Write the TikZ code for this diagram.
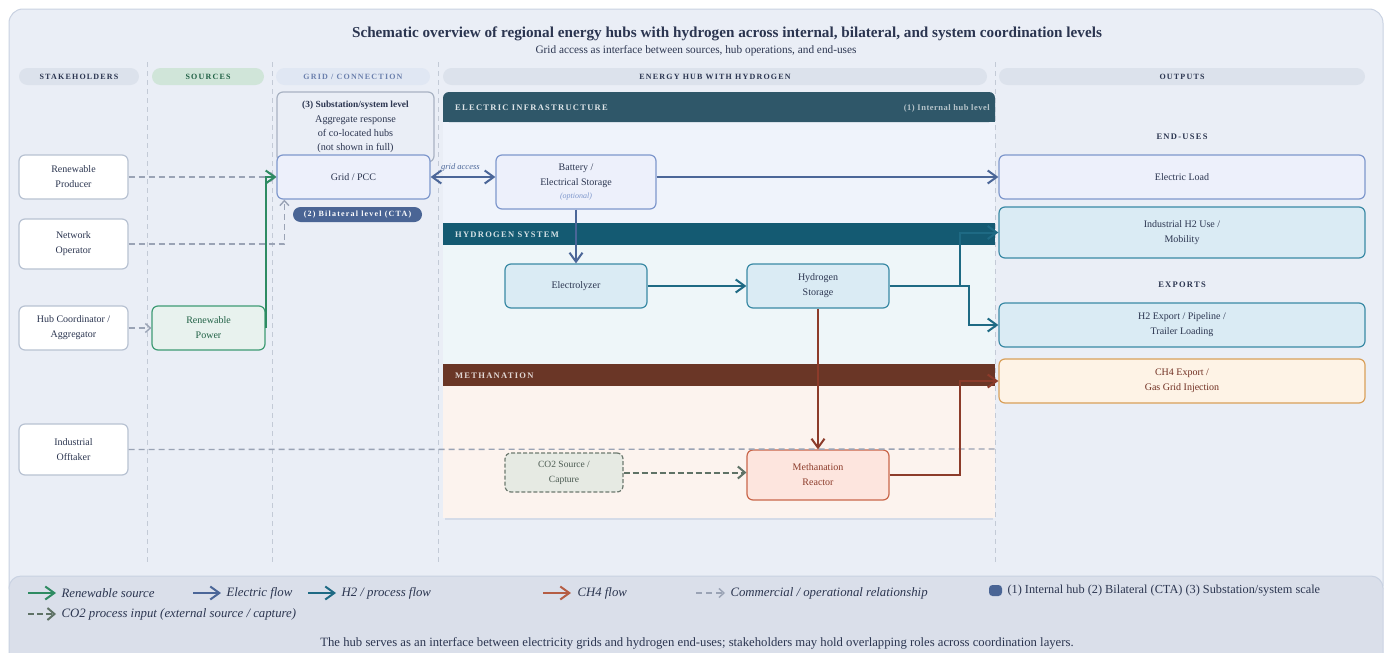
\documentclass[tikz,border=0pt]{standalone}
\usepackage{fontspec}
\setmainfont{Liberation Serif}
\newfontfamily\trackfont[LetterSpace=15]{Liberation Serif}
\newfontfamily\lighttrack[LetterSpace=6]{Liberation Serif}
\usetikzlibrary{arrows.meta,calc}

% palette
\definecolor{panelfill}{HTML}{EAEEF6}
\definecolor{paneldraw}{HTML}{C9D2E2}
\definecolor{legendfill}{HTML}{DADFEA}
\definecolor{pillfill}{HTML}{DCE2EC}
\definecolor{pillsrc}{HTML}{D0E5D9}
\definecolor{pillgrid}{HTML}{E0E7F3}
\definecolor{ink}{HTML}{2B3550}
\definecolor{sepline}{HTML}{C3CAD6}
\definecolor{elechead}{HTML}{2F5769}
\definecolor{h2head}{HTML}{145A72}
\definecolor{ch4head}{HTML}{6A3626}
\definecolor{elecbody}{HTML}{EFF3FB}
\definecolor{h2body}{HTML}{EEF6F9}
\definecolor{ch4body}{HTML}{FCF3EE}
\definecolor{stakedraw}{HTML}{B8C2D2}
\definecolor{elecdraw}{HTML}{7E97CC}
\definecolor{elecfill}{HTML}{EDF0FB}
\definecolor{h2draw}{HTML}{3A8AA5}
\definecolor{h2fill}{HTML}{DAEBF4}
\definecolor{greendraw}{HTML}{3E9B74}
\definecolor{greenfill}{HTML}{E8F2EE}
\definecolor{co2draw}{HTML}{6E7A70}
\definecolor{co2fill}{HTML}{E6EAE3}
\definecolor{ch4draw}{HTML}{C9674B}
\definecolor{ch4fill}{HTML}{FDE5DE}
\definecolor{expdraw}{HTML}{D9A05A}
\definecolor{expfill}{HTML}{FEF3E6}
\definecolor{substdraw}{HTML}{A8B2C2}
\definecolor{ctafill}{HTML}{4A6595}
\definecolor{elecline}{HTML}{4B6698}
\definecolor{h2line}{HTML}{1E6A84}
\definecolor{ch4line}{HTML}{8C3B2A}
\definecolor{greenline}{HTML}{2E8B62}
\definecolor{relline}{HTML}{9AA3B5}
\definecolor{co2line}{HTML}{5F7266}

\tikzset{
  bigtip/.tip={Straight Barb[length=9pt,width=13pt]},
  smalltip/.tip={Straight Barb[length=5pt,width=9pt]},
  co2tip/.tip={Straight Barb[length=7pt,width=12pt]},
}

\begin{document}
\begin{tikzpicture}[x=1pt,y=-1pt,
  nodefont/.style={font=\fontsize{10}{15}\selectfont},
  box/.style={rounded corners=6pt, line width=1.2pt, align=center, inner sep=0pt,
    text=ink, nodefont},
  stakebox/.style={box, draw=stakedraw, fill=white, minimum width=109pt},
  elecbox/.style={box, draw=elecdraw, fill=elecfill},
  h2box/.style={box, draw=h2draw, fill=h2fill},
  greenbox/.style={box, draw=greendraw, fill=greenfill, text=greenline!70!black},
  co2box/.style={box, draw=co2draw, fill=co2fill, dash pattern=on 4pt off 2pt, text=co2line!80!black},
  ch4box/.style={box, draw=ch4draw, fill=ch4fill, text=ch4line},
  expbox/.style={box, draw=expdraw, fill=expfill, text=ch4line!80!black},
  pill/.style={rounded corners=8.5pt, minimum height=17pt, inner sep=0pt,
    font=\trackfont\bfseries\fontsize{8}{9}\selectfont},
  sect/.style={font=\trackfont\bfseries\fontsize{8.5}{10}\selectfont, anchor=west, inner sep=0pt},
  sep/.style={draw=sepline, dash pattern=on 5pt off 4pt, line width=0.9pt},
  flow/.style={line width=2pt, -{bigtip}},
  elecflow/.style={flow, draw=elecline},
  h2flow/.style={flow, draw=h2line},
  ch4flow/.style={flow, draw=ch4line},
  greenflow/.style={flow, draw=greenline},
  relflow/.style={line width=1.4pt, draw=relline, dash pattern=on 6pt off 4pt, -{smalltip}},
  relplain/.style={line width=1.4pt, draw=relline, dash pattern=on 6pt off 4pt},
  co2flow/.style={line width=2pt, draw=co2line, dash pattern=on 6pt off 3pt, -{co2tip}},
  legtext/.style={anchor=west, font=\itshape\fontsize{12.8}{14}\selectfont, text=ink},
]
\useasboundingbox (0,0) rectangle (1389,653);
\fill[white] (0,0) rectangle (1389,653);

% outer panel and legend panel
\draw[fill=panelfill, draw=paneldraw, line width=1pt, rounded corners=14pt]
  (9,9) rectangle (1383,600);
\draw[fill=legendfill, draw=paneldraw, line width=1pt, rounded corners=12pt]
  (9,576) rectangle (1383,670);

% title
\node[font=\bfseries\fontsize{15.2}{17}\selectfont, text=ink] (title) at (727,34)
  {Schematic overview of regional energy hubs with hydrogen across internal, bilateral, and system coordination levels};
\node[font=\fontsize{11.3}{13}\selectfont, text=ink] (subtitle) at (696,51)
  {Grid access as interface between sources, hub operations, and end-uses};

% column headers
\node[pill, fill=pillfill, text=ink, minimum width=120pt] (hStake) at (79,76.5) {STAKEHOLDERS};
\node[pill, fill=pillsrc, text=greenline!70!black, minimum width=112pt] (hSrc) at (208,76.5) {SOURCES};
\node[pill, fill=pillgrid, text=elecdraw!85!black, minimum width=154pt] (hGrid) at (353,76.5) {GRID / CONNECTION};
\node[pill, fill=pillfill, text=ink, minimum width=544pt] (hHub) at (715,76.5) {ENERGY HUB WITH HYDROGEN};
\node[pill, fill=pillfill, text=ink, minimum width=366pt] (hOut) at (1182,76.5) {OUTPUTS};

% hub layers
\fill[elecbody] (443,122) rectangle (995,223);
\fill[h2body] (443,245) rectangle (995,364);
\fill[ch4body] (443,386) rectangle (995,518);
\draw[draw=paneldraw!80!white, line width=1.5pt] (445,519) -- (993,519);
\fill[elechead, rounded corners=6pt] (443,122) -- (443,92) -- (995,92) -- (995,122) -- cycle;
\fill[elechead] (443,112) rectangle (995,122);
\fill[h2head] (443,223) rectangle (995,245);
\fill[ch4head] (443,364) rectangle (995,386);
\node[sect, text=white!85!elechead] (sElec) at (455,108) {ELECTRIC INFRASTRUCTURE};
\node[font=\lighttrack\bfseries\fontsize{8.5}{10}\selectfont, anchor=east, inner sep=0pt, text=white!65!elechead] (sInt) at (990,108) {(1) Internal hub level};
\node[sect, text=white!82!h2head] (sH2) at (455,234.5) {HYDROGEN SYSTEM};
\node[sect, text=white!80!ch4head] (sCh4) at (455,376) {METHANATION};

% column separators
\foreach \xs in {147,272,438,995} \draw[sep] (\xs,62) -- (\xs,565);

% output group labels
\node[font=\trackfont\bfseries\fontsize{8.5}{10}\selectfont, text=ink] (lEnd) at (1182,137) {END-USES};
\node[font=\trackfont\bfseries\fontsize{8.5}{10}\selectfont, text=ink] (lExp) at (1182,285) {EXPORTS};

% stakeholders
\node[stakebox, minimum height=44pt] (RProd) at (73.5,177) {Renewable\\Producer};
\node[stakebox, minimum height=50pt] (NetOp) at (73.5,244) {Network\\Operator};
\node[stakebox, minimum height=44pt] (HubC) at (73.5,328) {Hub Coordinator /\\Aggregator};
\node[stakebox, minimum height=51pt] (IndOff) at (73.5,449.5) {Industrial\\Offtaker};

% sources
\node[greenbox, minimum width=113pt, minimum height=44pt] (RPow) at (208.5,328) {Renewable\\Power};

% grid / connection
\node[box, draw=substdraw, fill=panelfill, minimum width=157pt, minimum height=70pt,
  font=\fontsize{10.2}{14.3}\selectfont] (Subst) at (355.5,127)
  {{\bfseries\fontsize{9.4}{10}\selectfont (3) Substation/system level}\\Aggregate response\\of co-located hubs\\(not shown in full)};
\node[elecbox, minimum width=153pt, minimum height=44pt] (Grid) at (353.5,177) {Grid / PCC};
\node[fill=ctafill, text=white, rounded corners=7.5pt, minimum width=129pt, minimum height=15pt,
  inner sep=0pt, font=\trackfont\bfseries\fontsize{8}{10}\selectfont] (CTA) at (357.5,214.5) {(2) Bilateral level (CTA)};

% hub components
\node[elecbox, minimum width=160pt, minimum height=54pt] (Batt) at (576,182)
  {\\[-8pt]Battery /\\Electrical Storage\\[-2pt]{\itshape\fontsize{8}{9}\selectfont\color{elecdraw}(optional)}};
\node[h2box, minimum width=142pt, minimum height=44pt] (Elyz) at (576,286) {Electrolyzer};
\node[h2box, minimum width=142pt, minimum height=44pt] (HStor) at (818,286) {Hydrogen\\Storage};
\node[co2box, minimum width=118pt, minimum height=39pt, font=\fontsize{9.5}{15}\selectfont] (CO2) at (564,472.5) {CO2 Source /\\Capture};
\node[ch4box, minimum width=142pt, minimum height=50pt] (MReact) at (818,475) {Methanation\\Reactor};

% outputs
\node[elecbox, minimum width=366pt, minimum height=44pt] (ELoad) at (1182,177) {Electric Load};
\node[h2box, minimum width=366pt, minimum height=51pt] (IndH2) at (1182,232.5) {Industrial H2 Use /\\Mobility};
\node[h2box, minimum width=366pt, minimum height=44pt] (H2Exp) at (1182,325) {H2 Export / Pipeline /\\Trailer Loading};
\node[expbox, minimum width=366pt, minimum height=44pt] (CH4Exp) at (1182,381) {CH4 Export /\\Gas Grid Injection};

% relationships
\coordinate (offEnd) at (995,449);
\coordinate (gridIn) at ($(Grid.south west)+(8,0)$);
\draw[relflow] (RProd.east) -- (Grid.west);
\draw[relflow] (NetOp.east) -| (gridIn);
\draw[relflow] (HubC.east) -- (RPow.west);
\draw[relplain] (IndOff.east) -- (offEnd);

% flows
\draw[greenflow] (RPow.east) |- (Grid.west);
\draw[elecflow, {bigtip}-{bigtip}]
  (Grid.east) -- (Grid.east -| Batt.west)
  node[pos=0.46, above=1pt, font=\itshape\fontsize{8.5}{9}\selectfont, text=elecline] (gacc) {grid access};
\draw[elecflow] (Batt.east |- ELoad.west) -- (ELoad.west);
\draw[elecflow] (Batt.south) -- (Elyz.north);
\draw[h2flow] (Elyz.east) -- (HStor.west);
\coordinate (hsplit) at (960,286);
\coordinate (hsplitb) at (969,286);
\draw[h2flow] (HStor.east) -- (hsplit) |- (IndH2.west);
\draw[h2flow] (hsplit) -- (hsplitb) |- (H2Exp.west);
\draw[ch4flow] (HStor.south) -- (MReact.north);
\coordinate (mturn) at (960,475);
\draw[ch4flow] (MReact.east) -- (mturn) |- (CH4Exp.west);
\draw[co2flow] (CO2.east) -- (CO2.east -| MReact.west);

% legend
\coordinate (lg1a) at (28,593); \coordinate (lg1b) at (56,593);
\draw[greenflow] (lg1a) -- (lg1b);
\node[legtext] (t1) at (58,593) {Renewable source};
\coordinate (lg2a) at (193,593); \coordinate (lg2b) at (221,593);
\draw[elecflow] (lg2a) -- (lg2b);
\node[legtext] (t2) at (223,593) {Electric flow};
\coordinate (lg3a) at (308,593); \coordinate (lg3b) at (336,593);
\draw[h2flow] (lg3a) -- (lg3b);
\node[legtext] (t3) at (338,593) {H2 / process flow};
\coordinate (lg4a) at (543,593); \coordinate (lg4b) at (571,593);
\draw[ch4flow, draw=ch4draw!90!black] (lg4a) -- (lg4b);
\node[legtext] (t4) at (574,593) {CH4 flow};
\coordinate (lg5a) at (696,593); \coordinate (lg5b) at (725,593);
\draw[relflow] (lg5a) -- (lg5b);
\node[legtext] (t5) at (727,593) {Commercial / operational relationship};
\fill[ctafill, rounded corners=3.5pt] (989,585) rectangle (1002,596);
\node[anchor=west, font=\fontsize{12.3}{14}\selectfont, text=ink] (t6) at (1004,590.5)
  {(1) Internal hub (2) Bilateral (CTA) (3) Substation/system scale};
\coordinate (lg7a) at (28,614); \coordinate (lg7b) at (56,614);
\draw[co2flow] (lg7a) -- (lg7b);
\node[legtext] (t7) at (58,614) {CO2 process input (external source / capture)};
\node[font=\fontsize{12.7}{14}\selectfont, text=ink] (foot) at (697,643)
  {The hub serves as an interface between electricity grids and hydrogen end-uses; stakeholders may hold overlapping roles across coordination layers.};
\end{tikzpicture}
\end{document}
